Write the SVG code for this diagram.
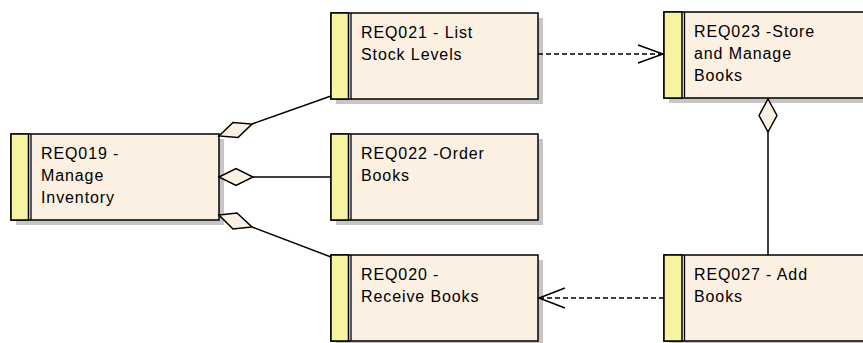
<svg xmlns="http://www.w3.org/2000/svg" width="863" height="343" viewBox="0 0 863 343">
<style>
.shadow{fill:#c6c6c6;stroke:none}
.body{fill:#fbf0e2;stroke:#000;stroke-width:1.5}
.strip{fill:#f7f3a3;stroke:#000;stroke-width:1.5}
.sep{stroke:#000;stroke-width:1.3}
.lbl{font-family:"Liberation Sans",Arial,sans-serif;font-size:16px;letter-spacing:0.9px;fill:#000}
.conn{fill:none;stroke:#000;stroke-width:1.5}
.dash{stroke-dasharray:5,3}
.dia{fill:#fbf0e2;stroke:#000;stroke-width:1.5;stroke-linejoin:miter}
</style>
<rect width="863" height="343" fill="#fff"/>
<g id="REQ019">
<rect class="shadow" x="16" y="139" width="208" height="86"/>
<rect class="body" x="11" y="134" width="208" height="86"/>
<rect class="strip" x="11" y="134" width="17.5" height="86"/>
<line class="sep" x1="31" y1="134" x2="31" y2="220"/>
<text class="lbl" x="41" y="159">REQ019 -</text>
<text class="lbl" x="41" y="181">Manage</text>
<text class="lbl" x="41" y="203">Inventory</text>
</g>
<g id="REQ021">
<rect class="shadow" x="336" y="18" width="207" height="86"/>
<rect class="body" x="331" y="13" width="207" height="86"/>
<rect class="strip" x="331" y="13" width="17.5" height="86"/>
<line class="sep" x1="351" y1="13" x2="351" y2="99"/>
<text class="lbl" x="361" y="38">REQ021 - List</text>
<text class="lbl" x="361" y="60">Stock Levels</text>
</g>
<g id="REQ022">
<rect class="shadow" x="336" y="139" width="207" height="86"/>
<rect class="body" x="331" y="134" width="207" height="86"/>
<rect class="strip" x="331" y="134" width="17.5" height="86"/>
<line class="sep" x1="351" y1="134" x2="351" y2="220"/>
<text class="lbl" x="361" y="159">REQ022 -Order</text>
<text class="lbl" x="361" y="181">Books</text>
</g>
<g id="REQ020">
<rect class="shadow" x="336" y="260" width="207" height="86"/>
<rect class="body" x="331" y="255" width="207" height="86"/>
<rect class="strip" x="331" y="255" width="17.5" height="86"/>
<line class="sep" x1="351" y1="255" x2="351" y2="341"/>
<text class="lbl" x="361" y="280">REQ020 -</text>
<text class="lbl" x="361" y="302">Receive Books</text>
</g>
<g id="REQ023">
<rect class="shadow" x="669" y="17" width="207" height="86"/>
<rect class="body" x="664" y="12" width="207" height="86"/>
<rect class="strip" x="664" y="12" width="18" height="86"/>
<line class="sep" x1="684.5" y1="12" x2="684.5" y2="98"/>
<text class="lbl" x="694" y="37">REQ023 -Store</text>
<text class="lbl" x="694" y="59">and Manage</text>
<text class="lbl" x="694" y="81">Books</text>
</g>
<g id="REQ027">
<rect class="shadow" x="669" y="260" width="207" height="86"/>
<rect class="body" x="664" y="255" width="207" height="86"/>
<rect class="strip" x="664" y="255" width="18" height="86"/>
<line class="sep" x1="684.5" y1="255" x2="684.5" y2="341"/>
<text class="lbl" x="694" y="280">REQ027 - Add</text>
<text class="lbl" x="694" y="302">Books</text>
</g>
<g id="connectors">
<line class="conn" x1="252" y1="124" x2="331" y2="96"/>
<polygon class="dia" points="219,136 233,122.5 252,124 238,137.5"/>
<line class="conn" x1="253" y1="177" x2="331" y2="177"/>
<polygon class="dia" points="219,177 236,168.5 253,177 236,185.5"/>
<line class="conn" x1="252" y1="227" x2="331" y2="257"/>
<polygon class="dia" points="219,215 237,213 252,227 233,229"/>
<line class="conn dash" x1="538" y1="54" x2="663" y2="54"/>
<polyline class="conn" points="638,45 663,54 638,63"/>
<line class="conn dash" x1="664" y1="298" x2="539" y2="298"/>
<polyline class="conn" points="565,288 539,298 565,308"/>
<line class="conn" x1="768" y1="132" x2="768" y2="255"/>
<polygon class="dia" points="768,99 777,115.5 768,132 759,115.5"/>
</g>
</svg>
